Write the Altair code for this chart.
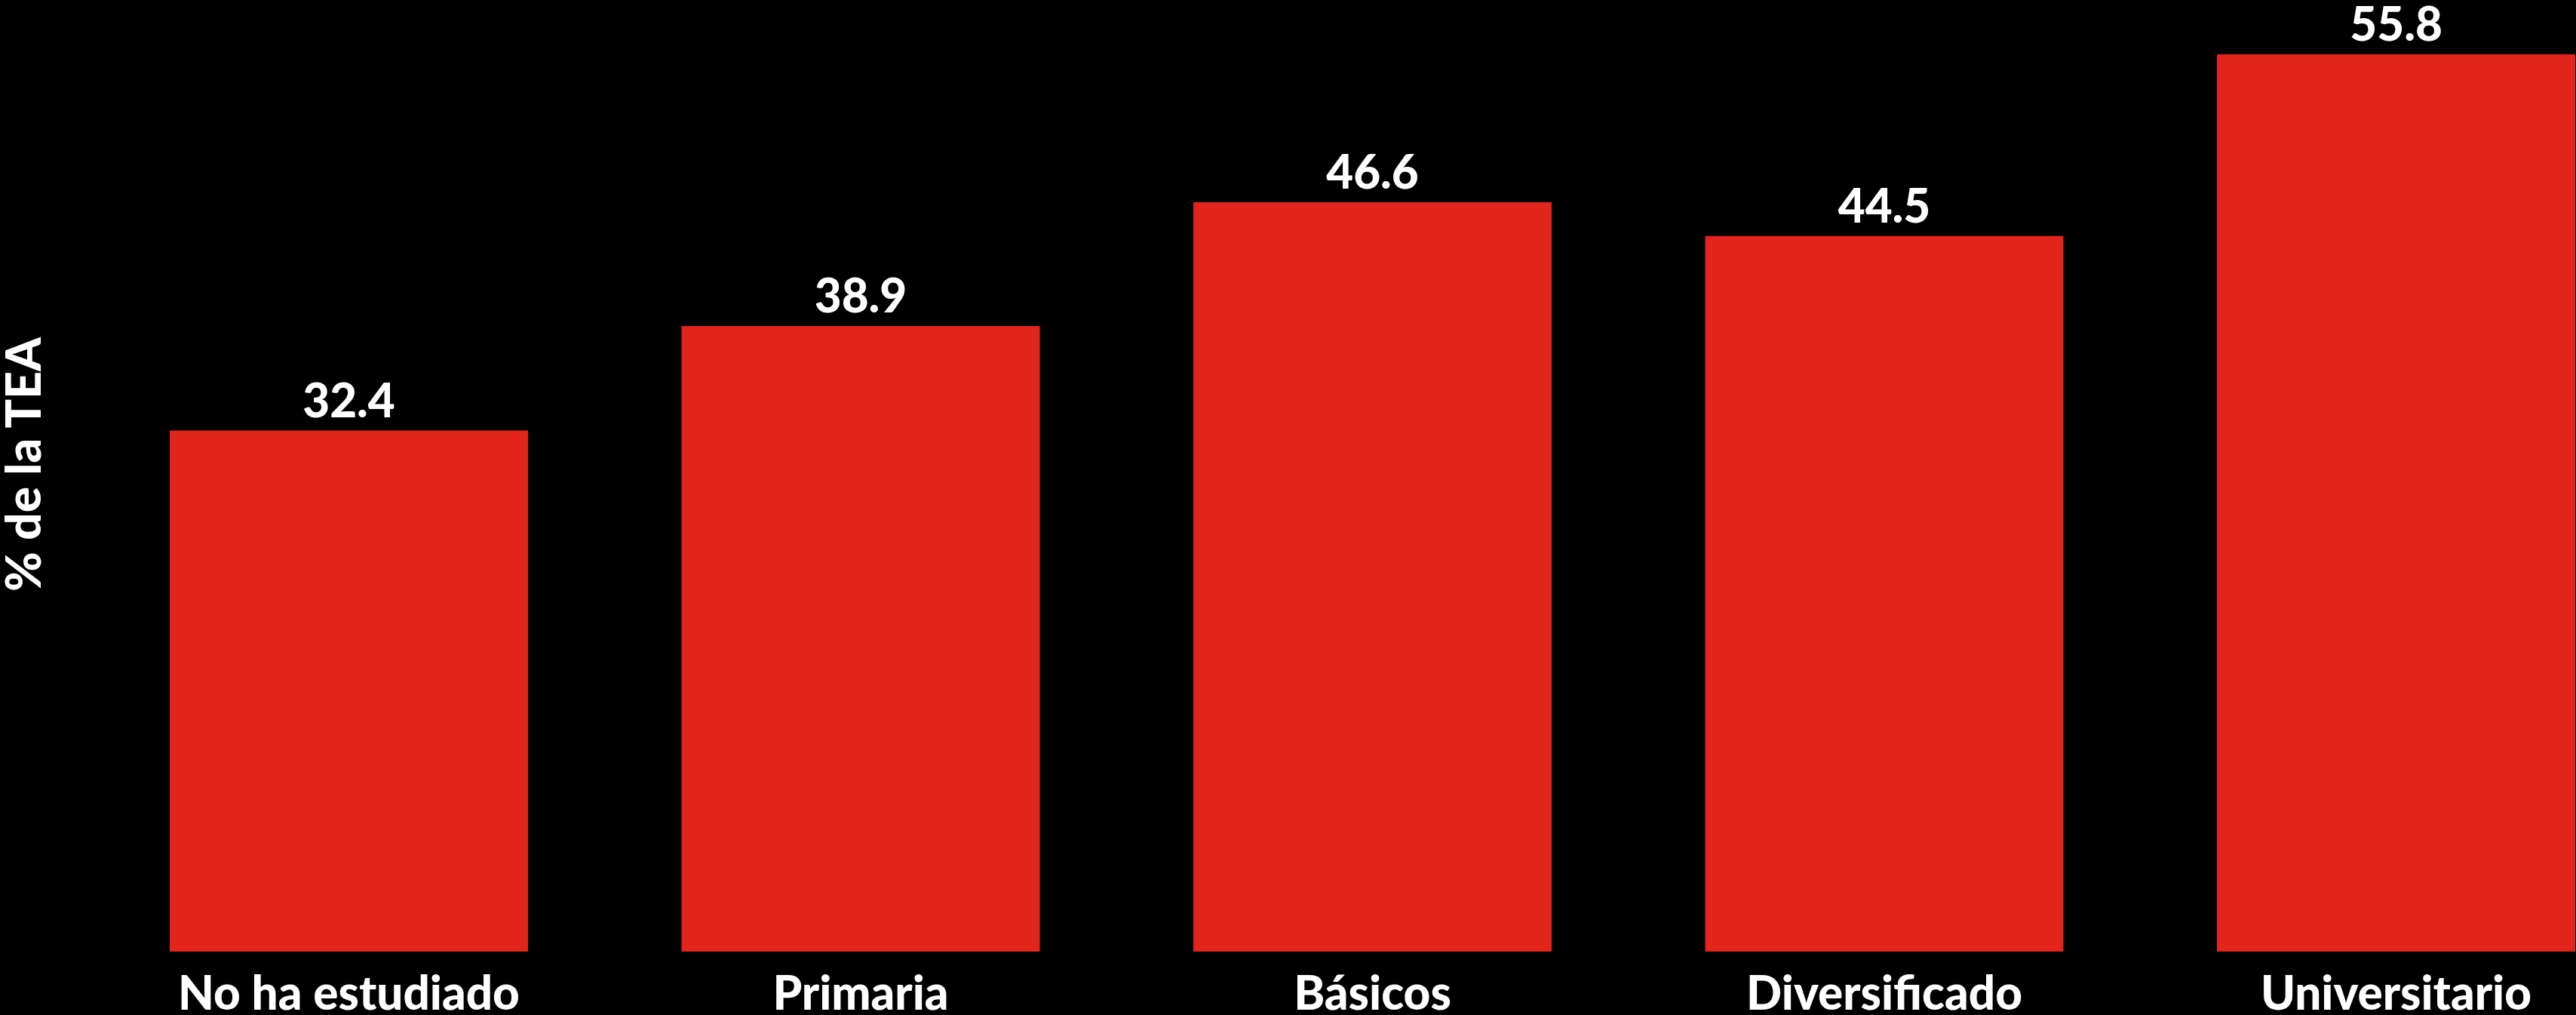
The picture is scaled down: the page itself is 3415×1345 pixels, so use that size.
import altair as alt
import pandas as pd
import jinja2

categories = ["No ha estudiado", "Primaria", "Básicos", "Diversificado", "Universitario"]
values = [32.4, 38.9, 46.6, 44.5, 55.8]
labels = ["32.4", "38.9", "46.6", "44.5", "55.8"]

df = pd.DataFrame({"cat": categories, "val": values, "lab": labels})

FONT = "Lato"
WEIGHT = 900
BAR = "#E1251B"

x = alt.X(
    "cat:N",
    sort=categories,
    title=None,
    scale=alt.Scale(paddingInner=0.3, paddingOuter=0),
    axis=alt.Axis(
        labelFont=FONT,
        labelFontSize=62,
        labelFontWeight=WEIGHT,
        labelColor="white",
        labelAngle=0,
        labelBaseline="alphabetic",
        labelPadding=76,
        labelLimit=0,
        ticks=False,
        domain=False,
        grid=False,
    ),
)
y = alt.Y(
    "val:Q",
    scale=alt.Scale(domain=[0, 58.8], nice=False),
    axis=alt.Axis(
        title="% de la TEA",
        titleFont=FONT,
        titleFontSize=64,
        titleFontWeight=WEIGHT,
        titleColor="white",
        titleAngle=270,
        titleAlign="center",
        titleBaseline="alphabetic",
        titleX=-172,
        titleY=607,
        titleLimit=0,
        labels=False,
        ticks=False,
        domain=False,
        grid=False,
    ),
)

bars = alt.Chart(df).mark_bar(color=BAR).encode(x=x, y=y)
text = alt.Chart(df).mark_text(
    font=FONT, fontSize=62, fontWeight=WEIGHT, color="white",
    baseline="alphabetic", align="center", dy=-18,
).encode(x=alt.X("cat:N", sort=categories), y="val:Q", text="lab:N")

chart = (
    alt.layer(bars, text)
    .properties(
        width=3189,
        height=1253,
        background="black",
        padding={"left": 225, "top": 8, "right": 0, "bottom": 84},
        autosize=alt.AutoSizeParams(type="none"),
    )
    .configure_view(stroke=None)
)

TEMPLATE = jinja2.Template("""<!DOCTYPE html>
<html>
<head>
  <style>
    html, body { background: black; margin: 0; overflow: hidden; }
    #{{ output_div }}.vega-embed { width: 100%; display: flex; }
  </style>
  <script type="text/javascript" src="{{ base_url }}/vega@{{ vega_version }}"></script>
  <script type="text/javascript" src="{{ base_url }}/vega-lite@{{ vegalite_version }}"></script>
  <script type="text/javascript" src="{{ base_url }}/vega-embed@{{ vegaembed_version }}"></script>
</head>
<body>
  <div id="{{ output_div }}"></div>
  <script type="text/javascript">
    vegaEmbed("#{{ output_div }}", {{ spec }}, {{ embed_options }}).catch(console.error);
  </script>
</body>
</html>
""")

chart.save("out.html", embed_options={"renderer": "svg", "actions": False}, template=TEMPLATE)
